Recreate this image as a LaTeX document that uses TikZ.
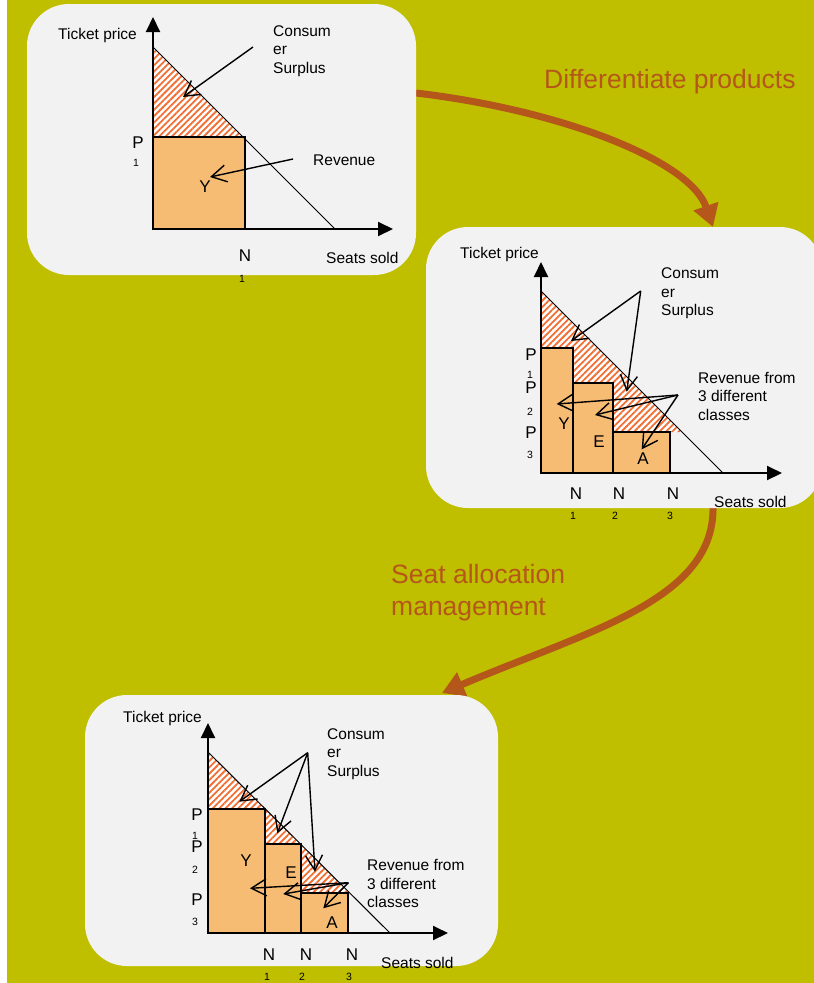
\documentclass[tikz,border=0pt]{standalone}
\usepackage{fontspec}
\setmainfont{Liberation Sans}
\usetikzlibrary{arrows.meta,patterns.meta}
\definecolor{bgolive}{RGB}{191,191,0}
\definecolor{panelgray}{RGB}{242,242,242}
\definecolor{rust}{RGB}{181,86,26}
\definecolor{hatchc}{RGB}{242,110,50}
\definecolor{revfill}{RGB}{246,188,116}
\newcommand{\lblfont}{\fontsize{15.5}{18.6}\selectfont}
\newcommand{\bigletfont}{\fontsize{17}{20}\selectfont}
\newcommand{\subdigfont}{\fontsize{10.5}{12}\selectfont}
\newcommand{\flowfont}{\fontsize{26.5}{32}\selectfont}
\begin{document}
\begin{tikzpicture}[x=1pt,y=-1pt,
  panel/.style={fill=panelgray, rounded corners=42pt},
  axisline/.style={line width=2pt, -{Triangle[length=15pt,width=14pt]}},
  demand/.style={line width=1pt},
  revbox/.style={fill=revfill, draw=black, line width=2.8pt},
  cshatch/.style={preaction={fill=white}, pattern={Lines[angle=45,distance=4.5pt,line width=1.8pt]}, pattern color=hatchc},
  note/.style={line width=1.4pt, -{Straight Barb[length=15pt,width=17pt]}},
  flow/.style={draw=rust, line width=7pt, -{Triangle[length=22pt,width=25pt]}},
  lbl/.style={font=\lblfont, inner sep=0pt, text=black, align=left},
  bigl/.style={font=\bigletfont, inner sep=0pt},
  subl/.style={font=\subdigfont, inner sep=0pt},
  flowlbl/.style={font=\flowfont, text=rust, inner sep=0pt, align=left},
]
\useasboundingbox (0,0) rectangle (814,983);
\clip (0,0) rectangle (814,983);
\fill[white] (0,0) rectangle (814,983);
\fill[bgolive] (7,0) rectangle (814,983);

% flow arrows (behind panels)
\coordinate (f1s) at (416,93);
\coordinate (f1e) at (713,227);
\coordinate (f2s) at (713,505);
\coordinate (f2e) at (442,693);
\draw[flow] (f1s) .. controls (560,110) and (690,160) .. (f1e);
\draw[flow] (f2s) .. controls (716,600) and (590,630) .. (f2e);

% panels
\path[panel] (27,4) rectangle (416,275);
\path[panel] (426,227) rectangle (822,508);
\path[panel] (85,695) rectangle (498,966);

% flow labels
\node[flowlbl, anchor=base west] (diff) at (544,88) {Differentiate products};
\node[flowlbl, anchor=north west] (seat) at (391,564) {Seat allocation\\management};

%%%%% Panel 1
\coordinate (o1) at (153,229);
\coordinate (d1s) at (153,47);
\coordinate (d1e) at (335,229);
\coordinate (y1t) at (153,17);
\coordinate (x1t) at (393,229);
\fill[cshatch] (d1s) -- (243,137) -- (153,137) -- cycle;
\draw[revbox] (153,137) rectangle (245,229);
\draw[demand] (d1s) -- (d1e);
\draw[axisline] (o1) -- (y1t);
\draw[axisline] (o1) -- (x1t);
\node[lbl, anchor=base west] (tp1) at (58,39.5) {Ticket price};
\node[lbl, anchor=north west] (cs1) at (273,25) {Consum\\er\\Surplus};
\node[lbl, anchor=base west] (rv1) at (313,165.7) {Revenue};
\node[lbl, anchor=base west] (ss1) at (326,263.3) {Seats sold};
\node[bigl] (y1) at (205,187) {Y};
\node[bigl] (p1a) at (138,143) {P};
\node[subl] (p1b) at (136,163) {1};
\node[bigl] (n1a) at (245,256) {N};
\node[subl] (n1b) at (242,279) {1};
\coordinate (cs1s) at (253,47);
\coordinate (cs1t) at (183,97);
\coordinate (rv1s) at (293,159);
\coordinate (rv1t) at (210,177);
\draw[note] (cs1s) -- (cs1t);
\draw[note] (rv1s) -- (rv1t);

%%%%% Panel 2
\coordinate (o2) at (541,473);
\coordinate (d2s) at (541,291);
\coordinate (d2e) at (723,473);
\coordinate (y2t) at (541,262);
\coordinate (x2t) at (782,473);
\fill[cshatch] (d2s) -- (682,432) -- (541,432) -- cycle;
\draw[revbox] (541,348) rectangle (573,473);
\draw[revbox] (573,383) rectangle (613,473);
\draw[revbox] (613,432) rectangle (670,473);
\draw[demand] (d2s) -- (d2e);
\draw[axisline] (o2) -- (y2t);
\draw[axisline] (o2) -- (x2t);
\node[lbl, anchor=base west] (tp2) at (460,258) {Ticket price};
\node[lbl, anchor=north west] (cs2) at (661,267.7) {Consum\\er\\Surplus};
\node[lbl, anchor=north west] (rv2) at (698,371.7) {Revenue from\\3 different\\classes};
\node[lbl, anchor=base west] (ss2) at (714,507) {Seats sold};
\node[bigl] (y2) at (564,424) {Y};
\node[bigl] (e2) at (599,442) {E};
\node[bigl] (a2) at (643,459) {A};
\node[bigl] (p2a) at (531,355) {P};
\node[subl] (p2b) at (530,375) {1};
\node[bigl] (p2c) at (531,388) {P};
\node[subl] (p2d) at (530,412) {2};
\node[bigl] (p2e) at (531,433) {P};
\node[subl] (p2f) at (530,455) {3};
\node[bigl] (n2a) at (576,494) {N};
\node[subl] (n2b) at (573,516) {1};
\node[bigl] (n2c) at (619,494) {N};
\node[subl] (n2d) at (615,516) {2};
\node[bigl] (n2e) at (673,494) {N};
\node[subl] (n2f) at (670,516) {3};
\coordinate (cs2s) at (640.7,291);
\coordinate (cs2t1) at (571,341);
\coordinate (cs2t2) at (626.7,391.7);
\coordinate (rv2s) at (678,395);
\coordinate (rv2t1) at (556.7,404);
\coordinate (rv2t2) at (595,415);
\coordinate (rv2t3) at (641.7,449.3);
\draw[note] (cs2s) -- (cs2t1);
\draw[note] (cs2s) -- (cs2t2);
\draw[note] (rv2s) -- (rv2t1);
\draw[note] (rv2s) -- (rv2t2);
\draw[note] (rv2s) -- (rv2t3);

%%%%% Panel 3
\coordinate (o3) at (208,933);
\coordinate (d3s) at (208,752);
\coordinate (d3e) at (390,933);
\coordinate (y3t) at (208,723);
\coordinate (x3t) at (448,933);
\fill[cshatch] (d3s) -- (349,893) -- (208,893) -- cycle;
\draw[revbox] (208,809) rectangle (265,933);
\draw[revbox] (265,844) rectangle (301,933);
\draw[revbox] (301,893) rectangle (348,933);
\draw[demand] (d3s) -- (d3e);
\draw[axisline] (o3) -- (y3t);
\draw[axisline] (o3) -- (x3t);
\node[lbl, anchor=base west] (tp3) at (123,722.3) {Ticket price};
\node[lbl, anchor=north west] (cs3) at (327,728.3) {Consum\\er\\Surplus};
\node[lbl, anchor=north west] (rv3) at (367,859) {Revenue from\\3 different\\classes};
\node[lbl, anchor=base west] (ss3) at (381,968.3) {Seats sold};
\node[bigl] (y3) at (246,861) {Y};
\node[bigl] (e3) at (291,873) {E};
\node[bigl] (a3) at (332,923) {A};
\node[bigl] (p3a) at (197,815) {P};
\node[subl] (p3b) at (195,836) {1};
\node[bigl] (p3c) at (197,847) {P};
\node[subl] (p3d) at (195,870) {2};
\node[bigl] (p3e) at (197,900) {P};
\node[subl] (p3f) at (195,922) {3};
\node[bigl] (n3a) at (269,955) {N};
\node[subl] (n3b) at (267,977) {1};
\node[bigl] (n3c) at (306,955) {N};
\node[subl] (n3d) at (302,977) {2};
\node[bigl] (n3e) at (352,955) {N};
\node[subl] (n3f) at (349,977) {3};
\coordinate (cs3s) at (307.7,752.7);
\coordinate (cs3t1) at (239.3,801.7);
\coordinate (cs3t2) at (277.3,833.3);
\coordinate (cs3t3) at (315,871.7);
\coordinate (rv3s) at (348.3,882.7);
\coordinate (rv3t1) at (250,888.3);
\coordinate (rv3t2) at (283.3,894);
\coordinate (rv3t3) at (323.3,908.3);
\draw[note] (cs3s) -- (cs3t1);
\draw[note] (cs3s) -- (cs3t2);
\draw[note] (cs3s) -- (cs3t3);
\draw[note] (rv3s) -- (rv3t1);
\draw[note] (rv3s) -- (rv3t2);
\draw[note] (rv3s) -- (rv3t3);
\end{tikzpicture}
\end{document}
